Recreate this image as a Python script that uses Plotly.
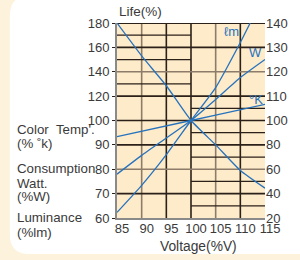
import plotly.graph_objects as go

# ---------------- data ----------------
voltage = [85, 90, 95, 100, 105, 110, 115]
life = [180, 153, 128.5, 100, 80, 59, 44.5]          # Life(%)  -> upper-left / lower-right scale
lm_voltage = [85, 90, 95, 100, 105, 110, 112]
luminance = [62.3, 73.4, 86, 100, 113.5, 132, 140]   # %lm
watt = [78, 85.7, 92.8, 100, 108.6, 117.6, 125]      # %W
kelvin = [93.4, 95.7, 97.9, 100, 102.2, 104.4, 106.6]  # %K

x_ticks = [85, 90, 95, 100, 105, 110, 115]
left_tickvals = [60, 70, 80, 90, 100, 110, 120, 130, 140]
left_ticktext = ["60", "70", "80", "90", "100", "120", "140", "160", "180"]
right_tickvals = [20, 40, 60, 80, 100, 120, 140, 160, 180]
right_ticktext = ["20", "40", "60", "80", "100", "110", "120", "130", "140"]

series_labels = ["ℓm", "W", "°K"]
series_label_x = [108.2, 113.1, 113.1]
series_label_y = [136.5, 128, 108.5]
left_labels = ["Color\u00a0 Temp'.", "(%\u00a0˚k)", "Consumption", "Watt.", "(%W)", "Luminance", "(%lm)"]

# ---------------- geometry ----------------
W, H = 300, 260
L, R, T, B = 117, 27, 23, 42
PW, PH = W - L - R, H - T - B

def px(x):
    return (x - L) / PW

def py(y):
    return (H - B - y) / PH

BLUE = "#2672bd"
DARK = "#2b2118"
BROWN = "#8d7c69"
TXT = "#3a3a3a"
FONT = "Liberation Sans, Arial, sans-serif"

fig = go.Figure()
line_style = dict(color=BLUE, width=1.3)
fig.add_trace(go.Scatter(x=voltage, y=life, yaxis="y2", mode="lines",
                         line=dict(shape="spline", smoothing=0.5, **line_style)))
fig.add_trace(go.Scatter(x=lm_voltage, y=luminance, mode="lines",
                         line=dict(shape="spline", smoothing=0.5, **line_style)))
fig.add_trace(go.Scatter(x=voltage, y=watt, mode="lines",
                         line=dict(shape="spline", smoothing=0.5, **line_style)))
fig.add_trace(go.Scatter(x=voltage, y=kelvin, mode="lines", line=line_style))

shapes = []
# cream frame: white rounded panel on a cream paper
path = (f"M {px(4)},{py(16)} Q {px(4)},{py(-4)} {px(24)},{py(-4)} "
        f"L {px(320)},{py(-4)} L {px(320)},{py(254)} L {px(24)},{py(254)} "
        f"Q {px(4)},{py(254)} {px(4)},{py(234)} Z")
shapes.append(dict(type="path", path=path, xref="paper", yref="paper",
                   fillcolor="white", line=dict(width=0), layer="below"))
# plot background
shapes.append(dict(type="rect", xref="x", yref="y", x0=85, x1=115, y0=60, y1=140,
                   fillcolor="#fdebca", line=dict(width=0), layer="below"))
# vertical grid
for v in [90, 95, 100, 105, 110]:
    col = BROWN if v in (90, 105) else DARK
    shapes.append(dict(type="line", xref="x", yref="y", x0=v, x1=v, y0=60, y1=140,
                       line=dict(color=col, width=1.6), layer="below"))
# horizontal full-width grid
for h in [70, 80, 90, 100, 110, 120, 130]:
    col = BROWN if h in (80, 120) else DARK
    shapes.append(dict(type="line", xref="x", yref="y", x0=85, x1=115, y0=h, y1=h,
                       line=dict(color=col, width=1.6), layer="below"))
# partial grid lines (left part, upper half)
for h in [115, 125, 135]:
    shapes.append(dict(type="line", xref="x", yref="y", x0=85, x1=100, y0=h, y1=h,
                       line=dict(color=DARK, width=1.2), layer="below"))
# partial grid lines (right part)
for h in [105, 95, 85, 75, 65]:
    shapes.append(dict(type="line", xref="x", yref="y", x0=100, x1=115, y0=h, y1=h,
                       line=dict(color=DARK, width=1.2), layer="below"))
# top border
shapes.append(dict(type="line", xref="x", yref="y", x0=85, x1=115, y0=140, y1=140,
                   line=dict(color=DARK, width=1.8), layer="below"))

annotations = []
annotations.append(dict(text="Life(%)", x=0, y=py(12), xref="paper", yref="paper",
                        xanchor="left", yanchor="middle", showarrow=False,
                        font=dict(size=13.5, color=TXT, family=FONT)))
left_y = [129, 143, 168, 183, 196, 217, 232]
for txt, yy in zip(left_labels, left_y):
    annotations.append(dict(text=txt, x=px(10), y=py(yy), xref="paper", yref="paper",
                            xanchor="left", yanchor="middle", showarrow=False,
                            font=dict(size=13.3, color=TXT, family=FONT)))
annotations.append(dict(text="Voltage(%V)", x=px(203), y=py(247), xref="paper", yref="paper",
                        xanchor="center", yanchor="middle", showarrow=False,
                        font=dict(size=13.8, color=TXT, family=FONT)))
for txt, xx, yy in zip(series_labels, series_label_x, series_label_y):
    annotations.append(dict(text=txt, x=xx, y=yy, xref="x", yref="y",
                            xanchor="center", yanchor="middle", showarrow=False,
                            font=dict(size=13, color=BLUE, family=FONT)))

fig.update_layout(
    width=W, height=H,
    margin=dict(l=L, r=R, t=T, b=B, pad=0),
    paper_bgcolor="#fdf3dc",
    plot_bgcolor="rgba(0,0,0,0)",
    showlegend=False,
    shapes=shapes,
    annotations=annotations,
    font=dict(family=FONT, size=13, color=TXT),
    xaxis=dict(range=[85, 115], tickvals=x_ticks, ticktext=[str(v) for v in x_ticks],
               showgrid=False, zeroline=False, showline=True, linecolor="#8a8a8a",
               linewidth=2, ticks="", ticklabelshift=5, ticklabelstandoff=-3,
               tickfont=dict(size=13, color=TXT, family=FONT)),
    yaxis=dict(range=[60, 140], tickvals=left_tickvals, ticktext=left_ticktext,
               showgrid=False, zeroline=False, showline=True, linecolor="#8a8a8a",
               linewidth=2, ticks="outside", ticklen=3, tickcolor=DARK,
               tickfont=dict(size=13, color=TXT, family=FONT)),
    yaxis2=dict(range=[20, 180], tickvals=right_tickvals, ticktext=right_ticktext,
                overlaying="y", side="right", showgrid=False, zeroline=False,
                showline=False, ticks="",
                tickfont=dict(size=13, color=TXT, family=FONT)),
)

fig.write_html(
    "out.html",
    config={"displayModeBar": False, "staticPlot": True},
    post_script="document.body.style.margin='0';document.body.style.overflow='hidden';",
)
